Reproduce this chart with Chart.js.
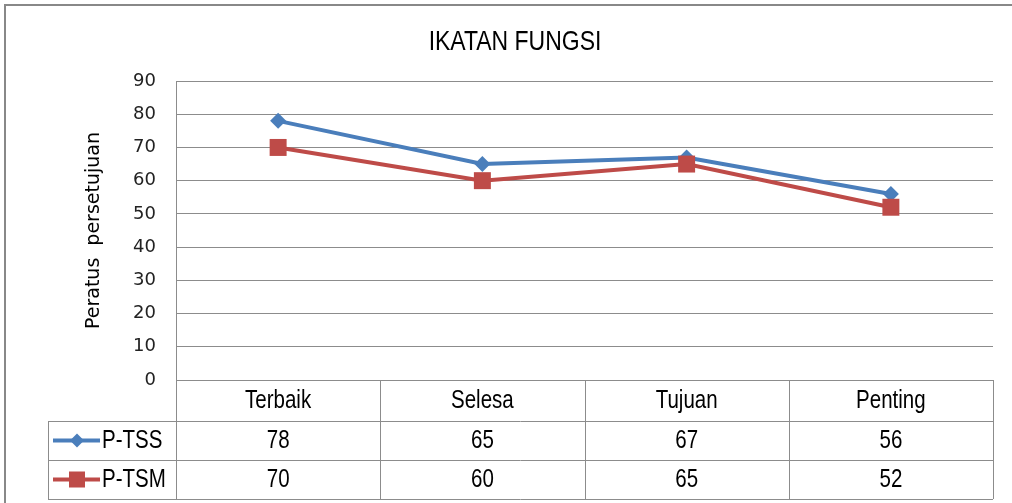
<!DOCTYPE html>
<html>
<head>
<meta charset="utf-8">
<title>IKATAN FUNGSI</title>
<script src="https://cdn.jsdelivr.net/npm/chart.js@4"></script>
<style>
  body { margin: 0; background: #fff; }
  #wrap { width: 1012px; height: 503px; }
</style>
</head>
<body>
<div id="wrap"><canvas id="myChart" width="1012" height="503"></canvas></div>
<script>
// data
var chartTitle = 'IKATAN FUNGSI';
var categories = ['Terbaik', 'Selesa', 'Tujuan', 'Penting'];
var seriesNames = ['P-TSS', 'P-TSM'];
var tssValues = [78, 65, 67, 56];
var tsmValues = [70, 60, 65, 52];
var yTicks = [0, 10, 20, 30, 40, 50, 60, 70, 80, 90];

var blue = '#4a7ebb';
var red = '#be4b48';
var gridColor = '#8c8c8c';

// no narrow font installed, so squeeze Liberation Sans sideways
function narrowText(c, text, x, y, size, align) {
    var sx = 0.82;
    c.save();
    c.font = size + 'px "Liberation Sans", Arial, sans-serif';
    c.textAlign = align;
    c.textBaseline = 'middle';
    c.translate(x, y);
    c.scale(sx, 1);
    c.fillText(text, 0, 0);
    c.restore();
}

// draws the frame, the title and the data table under the plot
var tablePlugin = {
    id: 'dataTable',
    beforeDraw: function (chart) {
        var c = chart.ctx;
        c.save();
        c.fillStyle = '#fff';
        c.fillRect(0, 0, chart.width, chart.height);
        c.strokeStyle = '#888';
        c.lineWidth = 2;
        c.beginPath();
        c.moveTo(5, chart.height + 5);
        c.lineTo(5, 5);
        c.lineTo(chart.width + 5, 5);
        c.stroke();
        c.fillStyle = '#000';
        narrowText(c, chartTitle, 515, 42, 28, 'center');
        c.restore();
    },
    afterDraw: function (chart) {
        var c = chart.ctx;
        var x = chart.scales.x;
        var area = chart.chartArea;
        var step = x.getPixelForValue(1) - x.getPixelForValue(0);
        var top = area.bottom;
        var rowH = [41, 39, 39];
        var r1 = top + rowH[0], r2 = r1 + rowH[1], r3 = r2 + rowH[2];
        var legendLeft = 48;
        var rows = [tssValues, tsmValues];
        var colors = [blue, red];

        c.save();
        c.strokeStyle = gridColor;
        c.lineWidth = 1;
        c.beginPath();
        // horizontal lines
        [r1, r2, r3].forEach(function (y) {
            c.moveTo(legendLeft, Math.round(y) + 0.5);
            c.lineTo(area.right, Math.round(y) + 0.5);
        });
        // vertical lines
        for (var i = 0; i <= categories.length; i++) {
            var vx = Math.round(x.getPixelForValue(i) - step / 2) + 0.5;
            c.moveTo(vx, top);
            c.lineTo(vx, r3);
        }
        c.moveTo(legendLeft + 0.5, r1);
        c.lineTo(legendLeft + 0.5, r3);
        c.stroke();

        c.fillStyle = '#000';
        categories.forEach(function (cat, i) {
            narrowText(c, cat, x.getPixelForValue(i), top + rowH[0] / 2 + 1, 25, 'center');
        });
        var rowMid = [(r1 + r2) / 2, (r2 + r3) / 2];
        rows.forEach(function (vals, j) {
            vals.forEach(function (v, i) {
                narrowText(c, String(v), x.getPixelForValue(i), rowMid[j] + 1, 25, 'center');
            });
        });

        // legend keys inside the table
        rows.forEach(function (vals, j) {
            var y = rowMid[j];
            c.strokeStyle = colors[j];
            c.lineWidth = 4;
            c.beginPath();
            c.moveTo(53, y);
            c.lineTo(100, y);
            c.stroke();
            c.fillStyle = colors[j];
            c.beginPath();
            if (j === 0) {
                c.moveTo(77, y - 7);
                c.lineTo(84, y);
                c.lineTo(77, y + 7);
                c.lineTo(70, y);
                c.closePath();
                c.fill();
            } else {
                c.fillRect(69, y - 8, 16, 16);
            }
            c.fillStyle = '#000';
            narrowText(c, seriesNames[j], 102, y + 1, 25, 'left');
        });
        c.restore();
    }
};

var ctx = document.getElementById('myChart').getContext('2d');
var myChart = new Chart(ctx, {
    type: 'line',
    data: {
        labels: categories,
        datasets: [{
            label: seriesNames[0],
            data: tssValues,
            borderColor: blue,
            backgroundColor: blue,
            borderWidth: 4,
            pointStyle: 'rectRot',
            pointRadius: 8,
            pointHoverRadius: 8,
            pointBorderWidth: 0,
            tension: 0,
            order: 1
        }, {
            label: seriesNames[1],
            data: tsmValues,
            borderColor: red,
            backgroundColor: red,
            borderWidth: 4,
            pointStyle: 'rect',
            pointRadius: 12,
            pointHoverRadius: 12,
            pointBorderWidth: 0,
            tension: 0,
            order: 0
        }]
    },
    options: {
        responsive: false,
        animation: false,
        layout: { padding: { left: 0, right: 19, top: 81, bottom: 123 } },
        plugins: {
            legend: { display: false },
            tooltip: { enabled: false },
            title: { display: false }
        },
        scales: {
            x: {
                offset: true,
                display: false
            },
            y: {
                min: 0,
                max: 90,
                afterFit: function (scale) { scale.width = 176; },
                afterBuildTicks: function (scale) {
                    scale.ticks = yTicks.map(function (v) { return { value: v }; });
                },
                ticks: {
                    stepSize: 10,
                    padding: 20,
                    color: '#222',
                    font: { family: '"DejaVu Sans"', size: 18 }
                },
                grid: { color: gridColor, drawTicks: false },
                border: { color: gridColor },
                title: {
                    display: true,
                    text: 'Peratus  persetujuan',
                    color: '#000',
                    font: { family: '"DejaVu Sans"', size: 19 },
                    padding: { top: 83, bottom: 0 }
                }
            }
        }
    },
    plugins: [tablePlugin]
});
</script>
</body>
</html>
